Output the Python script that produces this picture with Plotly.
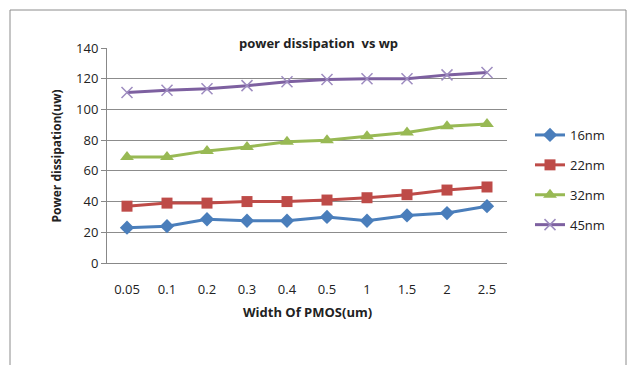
import plotly.graph_objects as go

categories = ["0.05", "0.1", "0.2", "0.3", "0.4", "0.5", "1", "1.5", "2", "2.5"]
nm16 = [23, 24, 28.5, 27.5, 27.5, 30, 27.5, 31, 32.5, 37]
nm22 = [37, 39, 39, 40, 40, 41, 42.5, 44.5, 47.5, 49.5]
nm32 = [69, 69, 73, 75.5, 79, 80, 82.5, 85, 89, 90.5]
nm45 = [111, 112.5, 113.5, 115.5, 118, 119.5, 120, 120, 122.5, 124]
series_names = ["16nm", "22nm", "32nm", "45nm"]

W, H = 628, 365
L, R, T, B = 107, 507, 48, 263

font_family = "Open Sans, Liberation Sans, sans-serif"

styles = [
    dict(color="#4A7EBB", symbol="diamond", size=11, lc=None),
    dict(color="#BE4B48", symbol="square", size=11, lc=None),
    dict(color="#98B954", symbol="triangle-up", size=12, lc=None),
    dict(color="#7D60A0", symbol="x-thin", size=11, lc="#9E8CC0"),
]

fig = go.Figure()
for i, (name, vals) in enumerate(zip(series_names, [nm16, nm22, nm32, nm45])):
    s = styles[i]
    marker = dict(symbol=s["symbol"], size=s["size"], color=s["color"])
    if s["lc"]:
        marker["line"] = dict(color=s["lc"], width=1.5)
    fig.add_trace(go.Scatter(
        x=categories, y=vals, name=name, mode="lines+markers",
        line=dict(color=s["color"], width=3), marker=marker,
        legendgroup=name,
    ))

px = lambda x: (x - L) / (R - L)
py = lambda y: (B - y) / (B - T)

fig.update_layout(
    width=W, height=H,
    margin=dict(l=L, r=W - R, t=T, b=H - B, pad=0),
    paper_bgcolor="white", plot_bgcolor="white",
    font=dict(family=font_family, size=13, color="#222222"),
    showlegend=True,
    legend=dict(x=px(530), y=py(120), xanchor="left", yanchor="top",
                font=dict(size=13, color="#222222"), tracegroupgap=10,
                traceorder="grouped", itemwidth=30, bgcolor="rgba(0,0,0,0)"),
    xaxis=dict(type="category", range=[-0.5, 9.5], showgrid=False,
               showline=True, linecolor="#888888", linewidth=1,
               ticks="", tickfont=dict(size=13), ticklabelstandoff=14,
               zeroline=False),
    yaxis=dict(range=[0, 140], dtick=20, showgrid=True, gridcolor="#8C8C8C",
               gridwidth=1, showline=True, linecolor="#888888", linewidth=1,
               ticks="outside", ticklen=5, tickcolor="#888888",
               tickfont=dict(size=13), zeroline=False),
    shapes=[dict(type="rect", xref="paper", yref="paper",
                 x0=px(10), x1=px(626), y0=py(400), y1=py(10),
                 line=dict(color="#8C8C8C", width=1))],
    annotations=[
        dict(text="<b>power dissipation  vs wp</b>", xref="paper", yref="paper",
             x=px(318), y=py(32), showarrow=False, font=dict(size=13)),
        dict(text="<b>Width Of PMOS(um)</b>", xref="paper", yref="paper",
             x=px(307), y=py(323), showarrow=False, font=dict(size=13)),
        dict(text="<b>Power dissipation(uw)</b>", xref="paper", yref="paper",
             x=px(45), y=py(156), showarrow=False, textangle=-90,
             font=dict(size=12)),
    ],
)

fig.write_html("out.html")
